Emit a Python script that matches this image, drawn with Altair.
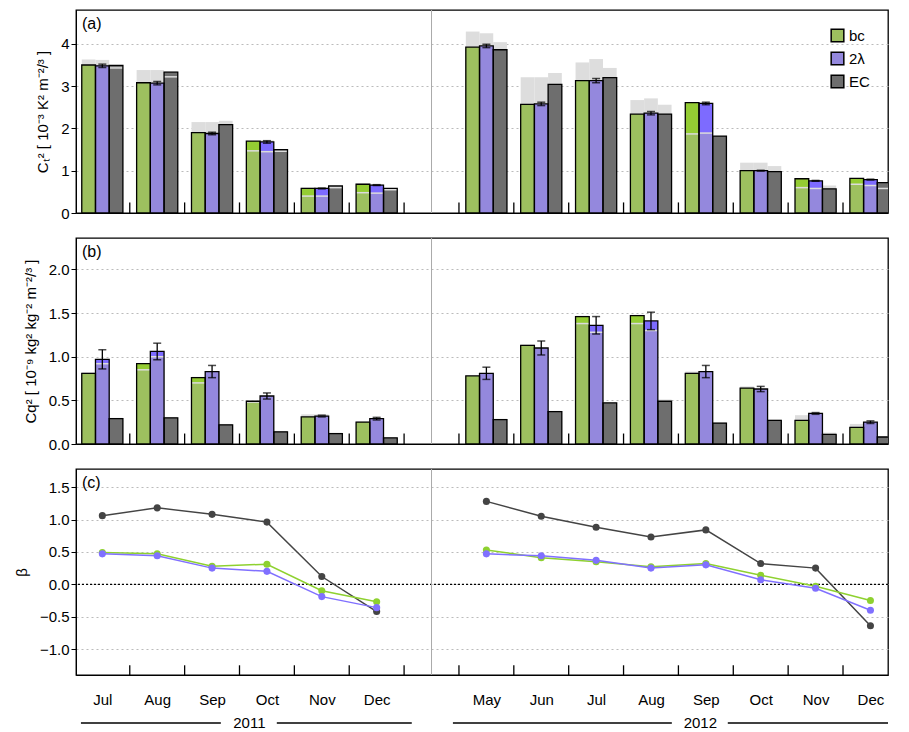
import altair as alt
import pandas as pd

months = ["Jul", "Aug", "Sep", "Oct", "Nov", "Dec",
          "May", "Jun", "Jul", "Aug", "Sep", "Oct", "Nov", "Dec"]
slots = [0, 1, 2, 3, 4, 5, 7, 8, 9, 10, 11, 12, 13, 14]
series = ["bc", "2λ", "EC"]

# panel (a) C_T^2
ct_bc = [3.50, 3.08, 1.90, 1.70, 0.58, 0.68, 3.92, 2.57, 3.13, 2.34, 2.61, 1.00, 0.81, 0.82]
ct_2l = [3.48, 3.07, 1.88, 1.68, 0.58, 0.66, 3.95, 2.58, 3.13, 2.36, 2.59, 1.00, 0.76, 0.79]
ct_ec = [3.49, 3.33, 2.09, 1.50, 0.64, 0.58, 3.86, 3.04, 3.20, 2.34, 1.82, 0.98, 0.57, 0.72]
ct_bc_low = [3.50, 3.08, 1.90, 1.47, 0.40, 0.48, 3.92, 2.57, 3.13, 2.34, 1.87, 1.00, 0.60, 0.68]
ct_2l_low = [3.48, 3.07, 1.88, 1.45, 0.40, 0.47, 3.95, 2.58, 3.13, 2.36, 1.89, 1.00, 0.58, 0.65]
ct_ec_low = [3.43, 3.22, 2.09, 1.46, 0.60, 0.55, 3.86, 3.04, 3.20, 2.34, 1.82, 0.98, 0.57, 0.58]
ct_bc_up = [3.63, 3.38, 2.15, 1.70, 0.60, 0.70, 4.29, 3.21, 3.56, 2.67, 2.61, 1.19, 0.81, 0.82]
ct_2l_up = [3.62, 3.38, 2.15, 1.72, 0.60, 0.68, 4.25, 3.21, 3.64, 2.71, 2.59, 1.19, 0.76, 0.79]
ct_ec_up = [3.50, 3.35, 2.18, 1.50, 0.64, 0.58, 4.04, 3.31, 3.43, 2.56, 1.82, 1.11, 0.65, 0.72]
ct_err = [0.04, 0.04, 0.03, 0.03, 0.01, 0.01, 0.04, 0.04, 0.05, 0.04, 0.03, 0.01, 0.01, 0.01]

# panel (b) C_q^2
cq_bc = [0.81, 0.92, 0.76, 0.49, 0.31, 0.25, 0.78, 1.13, 1.46, 1.47, 0.81, 0.64, 0.27, 0.19]
cq_2l = [0.97, 1.06, 0.83, 0.55, 0.32, 0.29, 0.81, 1.10, 1.36, 1.41, 0.83, 0.63, 0.35, 0.25]
cq_ec = [0.29, 0.30, 0.22, 0.14, 0.12, 0.07, 0.28, 0.37, 0.47, 0.49, 0.24, 0.27, 0.11, 0.08]
cq_bc_low = [0.81, 0.85, 0.70, 0.48, 0.31, 0.25, 0.78, 1.13, 1.38, 1.38, 0.81, 0.64, 0.27, 0.19]
cq_2l_low = [0.92, 1.00, 0.83, 0.55, 0.32, 0.29, 0.81, 1.10, 1.28, 1.30, 0.83, 0.63, 0.35, 0.25]
cq_ec_low = cq_ec
cq_bc_up = [0.82, 0.92, 0.77, 0.50, 0.34, 0.26, 0.79, 1.14, 1.47, 1.48, 0.83, 0.66, 0.33, 0.23]
cq_2l_up = [0.97, 1.06, 0.83, 0.55, 0.34, 0.29, 0.81, 1.10, 1.36, 1.41, 0.83, 0.63, 0.35, 0.25]
cq_ec_up = [0.30, 0.31, 0.23, 0.15, 0.13, 0.08, 0.29, 0.38, 0.48, 0.51, 0.25, 0.28, 0.13, 0.09]
cq_err = [0.11, 0.095, 0.07, 0.035, 0.01, 0.015, 0.07, 0.08, 0.10, 0.10, 0.07, 0.03, 0.01, 0.015]

# panel (c) beta
beta_bc = [0.49, 0.47, 0.28, 0.31, -0.10, -0.27, 0.53, 0.41, 0.35, 0.27, 0.32, 0.14, -0.03, -0.25]
beta_2l = [0.47, 0.44, 0.25, 0.20, -0.19, -0.36, 0.47, 0.44, 0.37, 0.25, 0.30, 0.07, -0.06, -0.40]
beta_ec = [1.06, 1.18, 1.08, 0.96, 0.12, -0.42, 1.28, 1.05, 0.88, 0.73, 0.84, 0.32, 0.25, -0.64]

muted = ["#9dc05f", "#9488dd", "#6e6e6e"]
bright = ["#94cc33", "#7d6bff", "#6e6e6e"]
line_col = ["#8ed12f", "#8070ff", "#444444"]
offsets = [-0.25, 0.0, 0.25]
W, XDOM = 812, [-0.48, 14.32]
FONT = "Liberation Sans"


def bar_frame(vals, lows, ups, err):
    rows = []
    for k, s in enumerate(series):
        for i, m in enumerate(months):
            c = slots[i] + offsets[k]
            rows.append(dict(series=s, x0=c - 0.125, x1=c + 0.125, xc=c,
                             v=vals[k][i], low=lows[k][i], up=ups[k][i],
                             err=err[i] if s == "2λ" else 0.0,
                             bright=bright[k], hasline=lows[k][i] < vals[k][i] - 0.005))
    df = pd.DataFrame(rows)
    df["elo"] = df.v - df.err
    df["ehi"] = df.v + df.err
    return df


def yaxis(vals, title, fmt=None):
    kw = dict(values=vals, title=title, grid=True, gridDash=[2, 3], gridColor="#bbbbbb",
              domainColor="black", tickColor="black", labelFontSize=15, titleFontSize=15,
              labelFont=FONT, titleFont=FONT, labelColor="black", titleColor="black",
              titleFontWeight="normal", titlePadding=10, labelOverlap=False)
    if fmt:
        kw["format"] = fmt
    return alt.Axis(**kw)


def common(df, ydom, yvals, ytitle, label, tick_len, h, legend=False):
    xs = alt.X("x0:Q", scale=alt.Scale(domain=XDOM, nice=False, zero=False),
               axis=alt.Axis(labels=False, ticks=False, grid=False, title=None, domainColor="black"))
    ys = alt.Y("low:Q", scale=alt.Scale(domain=ydom, nice=False, zero=False), axis=yaxis(yvals, ytitle))
    base = alt.Chart(df)
    gray = base.mark_bar(color="#dddddd", clip=True).encode(
        x=xs, x2="x1:Q", y=alt.Y("v:Q", scale=alt.Scale(domain=ydom)), y2="up:Q")
    br = base.mark_bar(clip=True).encode(
        x="x0:Q", x2="x1:Q", y=alt.Y("v:Q"), y2=alt.datum(0),
        color=alt.Color("bright:N", scale=None))
    mu = base.mark_bar(clip=True).encode(
        x="x0:Q", x2="x1:Q", y=ys, y2=alt.datum(0),
        color=alt.Color("series:N", scale=alt.Scale(domain=series, range=muted),
                        legend=alt.Legend(orient="top-right", title=None, symbolType="square",
                                          symbolStrokeColor="black", symbolStrokeWidth=1.5,
                                          symbolSize=160, labelFontSize=15, labelFont=FONT,
                                          rowPadding=4) if legend else None))
    ln = base.transform_filter("datum.hasline").mark_rule(color="#dcdcdc", strokeWidth=1.5, clip=True).encode(
        x="x0:Q", x2="x1:Q", y="low:Q")
    outline = base.mark_bar(fill=None, stroke="black", strokeWidth=1.3, clip=True).encode(
        x="x0:Q", x2="x1:Q", y="v:Q", y2=alt.datum(0))
    eb = base.transform_filter("datum.err > 0.012").mark_rule(color="black", strokeWidth=1.3).encode(
        x="xc:Q", y="elo:Q", y2="ehi:Q")
    ecap = base.transform_filter("datum.err > 0.005")
    cap1 = ecap.mark_tick(color="black", orient="horizontal", size=8, thickness=1.5).encode(
        x="xc:Q", y="elo:Q")
    cap2 = ecap.mark_tick(color="black", orient="horizontal", size=8, thickness=1.5).encode(
        x="xc:Q", y="ehi:Q")
    layers = [gray, br, mu, ln, outline, eb, cap1, cap2] + extras(ydom, tick_len, label)
    return alt.layer(*layers).resolve_scale(color="independent").properties(width=W, height=h)


def extras(ydom, tick_len, label):
    bounds = pd.DataFrame({"b": [0.5, 1.5, 2.5, 3.5, 4.5, 5.5, 6.5, 7.5, 8.5, 9.5, 10.5, 11.5, 12.5, 13.5]})
    ticks = alt.Chart(bounds).mark_rule(color="black", strokeWidth=1.3).encode(
        x="b:Q", y=alt.datum(ydom[0]), y2=alt.datum(ydom[0] + tick_len))
    div = alt.Chart(pd.DataFrame({"d": [6]})).mark_rule(color="#aaaaaa").encode(x="d:Q")
    lab = alt.Chart(pd.DataFrame({"t": [label]})).mark_text(
        align="left", baseline="top", fontSize=16, font=FONT, color="black").encode(
        x=alt.value(6), y=alt.value(6), text="t:N")
    return [ticks, div, lab]


dfa = bar_frame([ct_bc, ct_2l, ct_ec], [ct_bc_low, ct_2l_low, ct_ec_low],
                [ct_bc_up, ct_2l_up, ct_ec_up], ct_err)
dfb = bar_frame([cq_bc, cq_2l, cq_ec], [cq_bc_low, cq_2l_low, cq_ec_low],
                [cq_bc_up, cq_2l_up, cq_ec_up], cq_err)

pa = common(dfa, [0, 4.8], [0, 1, 2, 3, 4], "Cₜ² [ 10⁻³ K² m⁻²/³ ]", "(a)", 0.25, 203, legend=True)
pb = common(dfb, [0, 2.36], [0, 0.5, 1, 1.5, 2], "Cq² [ 10⁻⁹ kg² kg⁻² m⁻²/³ ]", "(b)", 0.12, 206)

# panel (c)
rows = []
for k, s in enumerate(series):
    vals = [beta_bc, beta_2l, beta_ec][k]
    for i in range(len(months)):
        rows.append(dict(series=s, x=slots[i], beta=vals[i], yr=2011 if slots[i] < 6 else 2012))
dfc = pd.DataFrame(rows)
label_expr = "[" + ",".join(
    "'" + (months[slots.index(i)] if i in slots else "") + "'" for i in range(15)) + "][datum.value]"
cdom = [-1.40, 1.78]
CH = 206
cx = alt.X("x:Q", scale=alt.Scale(domain=XDOM, nice=False, zero=False),
           axis=alt.Axis(values=slots, labelExpr=label_expr, ticks=False, grid=False, title=None,
                         domainColor="black", labelFontSize=15, labelFont=FONT, labelColor="black",
                         labelPadding=17))
cy = alt.Y("beta:Q", scale=alt.Scale(domain=cdom, nice=False, zero=False),
           axis=yaxis([-1, -0.5, 0, 0.5, 1, 1.5], "β", ".1f"))
order = ["EC", "bc", "2λ"]
lines = []
for s in order:
    k = series.index(s)
    sub = alt.Chart(dfc).transform_filter(alt.datum.series == s)
    lines.append(sub.mark_line(color=line_col[k], strokeWidth=1.5).encode(x=cx, y=cy, detail="yr:N"))
    lines.append(sub.mark_circle(color=line_col[k], size=50, opacity=1).encode(x="x:Q", y="beta:Q"))
zero = alt.Chart(pd.DataFrame({"z": [0]})).mark_rule(color="black", strokeDash=[2, 2], strokeWidth=1.3).encode(y="z:Q")

years = pd.DataFrame({"xa": [-0.39, 3.18, 6.39, 11.4], "xb": [2.16, 5.64, 10.38, 14.32]})
yrule = alt.Chart(years).mark_rule(color="black", strokeWidth=1.3).encode(
    x="xa:Q", x2="xb:Q", y=alt.value(CH + 48))
ytext = alt.Chart(pd.DataFrame({"xt": [2.68, 10.9], "t": ["2011", "2012"]})).mark_text(
    fontSize=15, font=FONT, color="black", baseline="middle").encode(
    x="xt:Q", y=alt.value(CH + 48), text="t:N")
pc = alt.layer(zero, *lines, *extras(cdom, 0.15, "(c)"), yrule, ytext).properties(width=W, height=CH)

chart = alt.vconcat(pa, pb, pc, spacing=14).configure_view(stroke="black", strokeWidth=1.3).properties(
    padding={"left": 5, "top": 0, "right": 0, "bottom": 0})
chart.save("out.html", embed_options={"renderer": "svg", "actions": False})
